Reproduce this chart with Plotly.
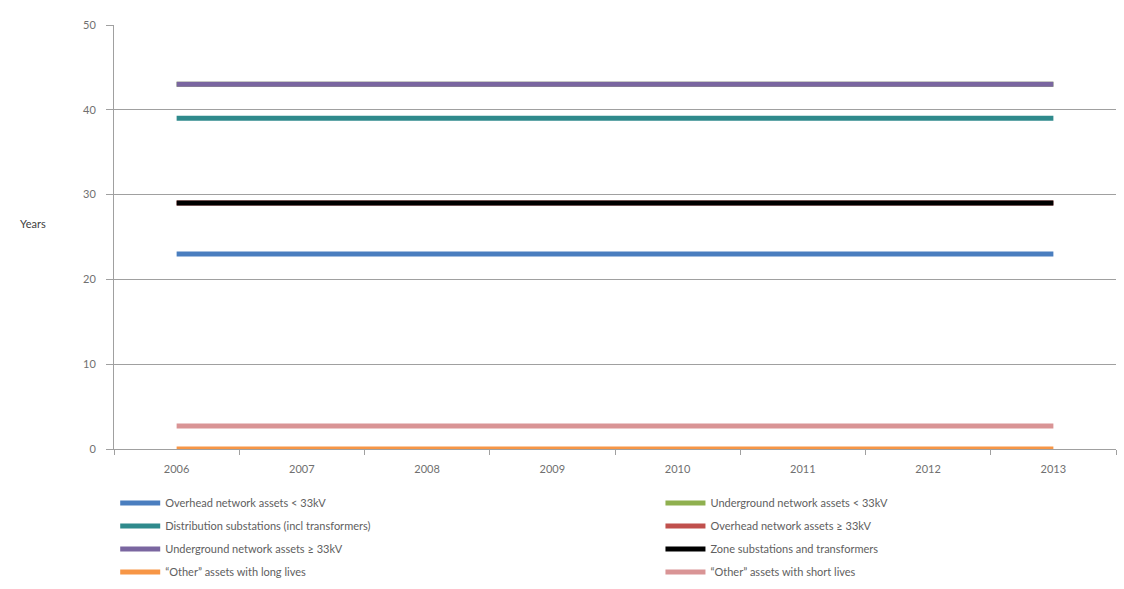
import plotly.graph_objects as go

years = ["2006", "2007", "2008", "2009", "2010", "2011", "2012", "2013"]
series_names = [
    "Overhead network assets < 33kV",
    "Underground network assets < 33kV",
    "Distribution substations (incl transformers)",
    "Overhead network assets \u2265 33kV",
    "Underground network assets \u2265 33kV",
    "Zone substations and transformers",
    "\u201cOther\u201d assets with long lives",
    "\u201cOther\u201d assets with short lives",
]
overhead_lt33 = [23, 23, 23, 23, 23, 23, 23, 23]
underground_lt33 = [43, 43, 43, 43, 43, 43, 43, 43]
dist_substations = [39, 39, 39, 39, 39, 39, 39, 39]
overhead_ge33 = [29, 29, 29, 29, 29, 29, 29, 29]
underground_ge33 = [43, 43, 43, 43, 43, 43, 43, 43]
zone_substations = [29, 29, 29, 29, 29, 29, 29, 29]
other_long = [0, 0, 0, 0, 0, 0, 0, 0]
other_short = [2.7, 2.7, 2.7, 2.7, 2.7, 2.7, 2.7, 2.7]

values = [overhead_lt33, underground_lt33, dist_substations, overhead_ge33,
          underground_ge33, zone_substations, other_long, other_short]
colors = ["#4a7ebf", "#8fb04f", "#2f8a8c", "#c0504d", "#7a66a0", "#000000", "#f79646", "#d99495"]

font_family = "Lato, Open Sans, sans-serif"

# legend grid: 2 columns x 4 rows (one single-item legend per series), container coords
col_x = [0.1025, 0.5876]
row_y = [0.146, 0.107, 0.068, 0.029]

fig = go.Figure()
legend_layouts = {}
for i, (name, vals, col) in enumerate(zip(series_names, values, colors)):
    lg = "legend" if i == 0 else f"legend{i + 1}"
    fig.add_trace(go.Scatter(
        x=years, y=vals, name=name, mode="lines",
        line=dict(color=col, width=5), cliponaxis=False, legend=lg,
    ))
    legend_layouts[lg] = dict(
        orientation="h", xref="container", yref="container",
        x=col_x[i % 2], xanchor="left",
        y=row_y[i // 2], yanchor="middle",
        font=dict(family=font_family, size=11, color="#606060"),
        itemwidth=40, bgcolor="rgba(0,0,0,0)",
    )

fig.update_layout(
    width=1124, height=589,
    margin=dict(l=114, r=8, t=25, b=140),
    paper_bgcolor="white", plot_bgcolor="white",
    font=dict(family=font_family, size=11, color="#707070"),
    showlegend=True,
    xaxis=dict(
        type="category", range=[-0.5, 7.5], tickson="boundaries",
        showline=True, linecolor="#a0a0a0", linewidth=1,
        ticks="outside", ticklen=5, tickcolor="#a0a0a0",
        ticklabelstandoff=10,
        showgrid=False, tickfont=dict(size=11, color="#707070"),
    ),
    yaxis=dict(
        range=[0, 50], tickvals=[0, 10, 20, 30, 40, 50],
        showline=True, linecolor="#a0a0a0", linewidth=1,
        ticks="outside", ticklen=7, tickcolor="#a0a0a0",
        ticklabelstandoff=8,
        showgrid=True, gridcolor="#a0a0a0", gridwidth=1,
        zeroline=False, tickfont=dict(size=11, color="#707070"),
    ),
    annotations=[dict(
        text="Years", xref="paper", yref="paper", x=-0.081, y=0.533,
        xanchor="center", yanchor="middle", showarrow=False,
        font=dict(family=font_family, size=11, color="#404040"),
    )],
    **legend_layouts,
)

fig.write_html("out.html")
